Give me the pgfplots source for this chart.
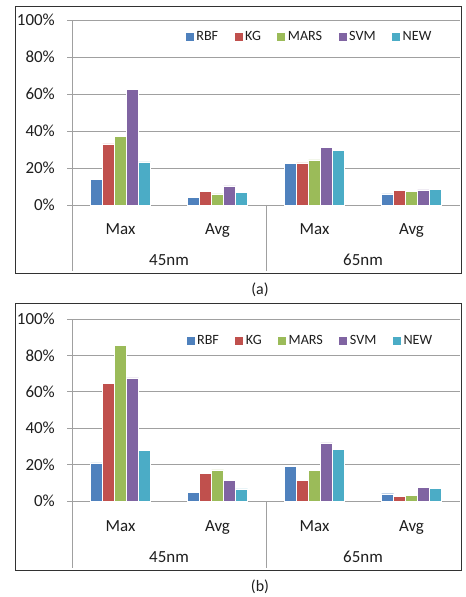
\documentclass[border=0pt]{standalone}
\usepackage{fontspec}
\setmainfont{Carlito}
\usepackage{pgfplots}
\usepackage{pgfplotstable}
\pgfplotsset{compat=1.18}
\definecolor{cRBF}{HTML}{4F81BD}
\definecolor{cKG}{HTML}{C0504D}
\definecolor{cMARS}{HTML}{9BBB59}
\definecolor{cSVM}{HTML}{8064A2}
\definecolor{cNEW}{HTML}{4BACC6}
\definecolor{gridc}{RGB}{160,160,160}
\definecolor{framec}{RGB}{50,50,50}
\definecolor{txt}{RGB}{30,30,30}

\pgfplotstableread{
cat RBF KG MARS SVM NEW
0 14.0 33.1 37.0 62.6 23.3
1 4.2 7.5 6.0 10.3 6.7
2 22.7 22.8 24.4 31.2 29.5
3 6.0 8.0 7.5 8.2 8.4
}\dataA
\pgfplotstableread{
cat RBF KG MARS SVM NEW
0 20.9 64.8 85.7 67.6 27.7
1 4.8 15.2 17.1 11.4 6.6
2 18.9 11.4 17.0 32.0 28.3
3 4.0 2.5 3.1 7.5 6.8
}\dataB

\pgfplotsset{
  mybars/.style={
    scale only axis,
    width=388bp,
    xmin=-0.5, xmax=3.5, ymin=0, ymax=100,
    anchor=south west,
    clip=false,
    ybar=0pt, bar width=12bp,
    axis x line*=bottom, axis y line*=left,
    axis line style={gridc, line width=0.8bp, -},
    xtick={0,1,2,3}, xticklabels={Max,Avg,Max,Avg},
    xtick style={draw=none},
    xticklabel style={anchor=base, yshift=-25bp, font=\fontsize{17}{20}\selectfont, text=txt},
    ytick={0,20,...,100},
    yticklabel={\pgfmathprintnumber{\tick}\%},
    /pgf/number format/assume math mode=true,
    yticklabel style={anchor=east, font=\fontsize{17}{20}\selectfont, text=txt, inner sep=0pt, xshift=-12bp},
    ytick style={gridc, line width=0.8bp},
    tick align=outside, major tick length=5bp,
    ymajorgrids, major grid style={gridc, line width=0.8bp},
    legend columns=5,
    legend image code/.code={\fill[##1,draw=none] (0bp,-4bp) rectangle (8bp,4bp);},
    legend style={draw=none, fill=none, anchor=center,
      font=\fontsize{14.2}{16}\selectfont, text=txt,
      nodes={inner sep=2.5bp},
      /tikz/every even column/.append style={column sep=14bp}},
    every axis plot/.append style={draw=white, line width=0.3bp},
  }
}

\begin{document}
\begin{tikzpicture}
\path[use as bounding box] (0,0) rectangle (466bp,597bp);
\fill[white] (0,0) rectangle (466bp,597bp);

% ---------- panel (a) ----------
\draw[framec, line width=1bp] (15bp,323bp) rectangle (461bp,590bp);
\begin{axis}[mybars, at={(72bp,392bp)}, height=185bp,
  legend style={at={(0.613,0.908)}}]
\addplot[fill=cRBF] table[x=cat,y=RBF] {\dataA};
\addplot[fill=cKG] table[x=cat,y=KG] {\dataA};
\addplot[fill=cMARS] table[x=cat,y=MARS] {\dataA};
\addplot[fill=cSVM] table[x=cat,y=SVM] {\dataA};
\addplot[fill=cNEW] table[x=cat,y=NEW] {\dataA};
\legend{RBF,KG,MARS,SVM,NEW}
\draw[gridc, line width=0.8bp] (axis cs:-0.5,0) -- ++(0pt,-66bp);
\draw[gridc, line width=0.8bp] (axis cs:1.5,0) -- ++(0pt,-66bp);
\node[anchor=base, yshift=-61bp, font=\fontsize{17}{20}\selectfont, text=txt] at (axis cs:0.5,0) {45nm};
\node[anchor=base, yshift=-61bp, font=\fontsize{17}{20}\selectfont, text=txt] at (axis cs:2.5,0) {65nm};
\end{axis}
\node[font=\fontsize{16}{19}\selectfont, text=txt] at (260bp,307bp) {(a)};

% ---------- panel (b) ----------
\draw[framec, line width=1bp] (15bp,26bp) rectangle (461bp,293bp);
\begin{axis}[mybars, at={(72bp,96bp)}, height=182bp,
  legend style={at={(0.615,0.879)}}]
\addplot[fill=cRBF] table[x=cat,y=RBF] {\dataB};
\addplot[fill=cKG] table[x=cat,y=KG] {\dataB};
\addplot[fill=cMARS] table[x=cat,y=MARS] {\dataB};
\addplot[fill=cSVM] table[x=cat,y=SVM] {\dataB};
\addplot[fill=cNEW] table[x=cat,y=NEW] {\dataB};
\legend{RBF,KG,MARS,SVM,NEW}
\draw[gridc, line width=0.8bp] (axis cs:-0.5,0) -- ++(0pt,-67bp);
\draw[gridc, line width=0.8bp] (axis cs:1.5,0) -- ++(0pt,-67bp);
\node[anchor=base, yshift=-61bp, font=\fontsize{17}{20}\selectfont, text=txt] at (axis cs:0.5,0) {45nm};
\node[anchor=base, yshift=-61bp, font=\fontsize{17}{20}\selectfont, text=txt] at (axis cs:2.5,0) {65nm};
\end{axis}
\node[font=\fontsize{16}{19}\selectfont, text=txt] at (260bp,10bp) {(b)};
\end{tikzpicture}
\end{document}
